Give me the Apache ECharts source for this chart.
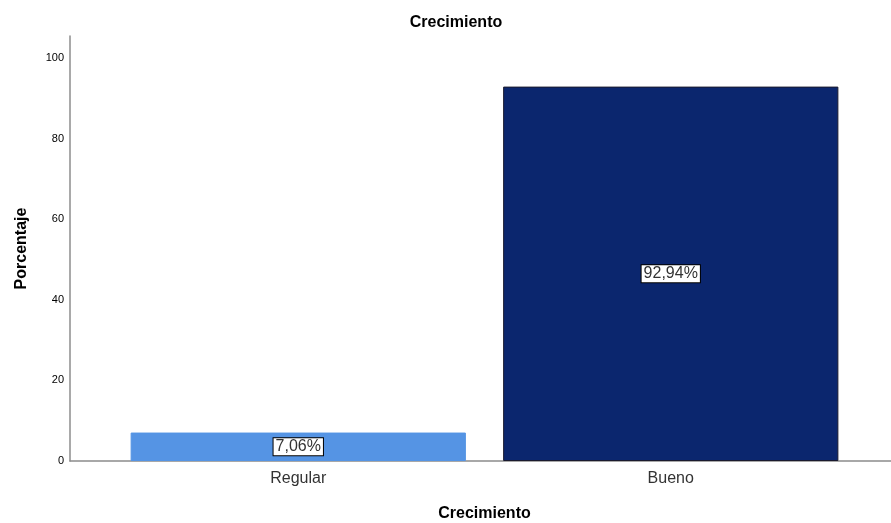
<!DOCTYPE html>
<html><head><meta charset="utf-8">
<script src="https://cdn.jsdelivr.net/npm/echarts@6/dist/echarts.min.js"></script>
<style>html,body{margin:0;padding:0;background:#fff}#c{width:891px;height:523px}</style>
</head><body><div id="c"></div>
<script>
const categories = ['Regular', 'Bueno'];
const values = [7.06, 92.94];
const barColors = ['#5594E4', '#0B266E'];
const yTicks = [0, 20, 40, 60, 80, 100];

const chart = echarts.init(document.getElementById('c'), null, {renderer: 'canvas'});
const yMax = 105.5;
const font = 'Arial, "Liberation Sans", sans-serif';
chart.setOption({
  animation: false,
  title: {text: 'Crecimiento', left: 451, top: 10, textAlign: 'center',
    textStyle: {fontFamily: font, fontSize: 16, fontWeight: 'bold', color: '#000'}},
  grid: [
    {left: 70, right: 0, top: 36, bottom: 62, outerBoundsMode: 'none', containLabel: false},
    {left: 112, right: 34, top: 36, bottom: 62, outerBoundsMode: 'none', containLabel: false}
  ],
  xAxis: [
    {gridIndex: 0, type: 'value', min: 0, max: 1, show: true,
      axisLine: {show: true, onZero: false, lineStyle: {color: '#8c8c8c', width: 1.5}},
      axisTick: {show: false}, axisLabel: {show: false}, splitLine: {show: false},
      name: 'Crecimiento', nameLocation: 'middle', nameGap: 45,
      nameTextStyle: {fontFamily: font, fontSize: 16, fontWeight: 'bold', color: '#000', padding: [0, 0, 0, 8]}},
    {gridIndex: 1, type: 'category', data: categories,
      axisLine: {show: false}, axisTick: {show: false},
      axisLabel: {fontFamily: font, fontSize: 16, color: '#333', margin: 10}}
  ],
  yAxis: [
    {gridIndex: 0, type: 'value', min: 0, max: yMax, interval: 20,
      axisLine: {show: true, lineStyle: {color: '#8c8c8c', width: 1.5}},
      axisTick: {show: false}, splitLine: {show: false},
      axisLabel: {fontFamily: font, fontSize: 11, color: '#000', margin: 6,
        formatter: v => yTicks.includes(v) ? String(v) : ''},
      name: 'Porcentaje', nameLocation: 'middle', nameGap: 40, nameRotate: 90,
      nameTextStyle: {fontFamily: font, fontSize: 16, fontWeight: 'bold', color: '#000'}},
    {gridIndex: 1, type: 'value', min: 0, max: yMax, show: false}
  ],
  series: [{
    type: 'bar', xAxisIndex: 1, yAxisIndex: 1,
    barCategoryGap: '10%',
    data: values.map((v, i) => ({value: v, itemStyle: {color: barColors[i], borderColor: i === 1 ? '#1a1a2e' : barColors[i], borderWidth: 1}})),
    label: {show: true, position: 'inside',
      formatter: p => p.value.toFixed(2).replace('.', ',') + '%',
      fontFamily: font, fontSize: 16, color: '#333',
      backgroundColor: '#fff', borderColor: '#000', borderWidth: 1, padding: [1, 2, 0, 2]}
  }]
});
</script></body></html>
